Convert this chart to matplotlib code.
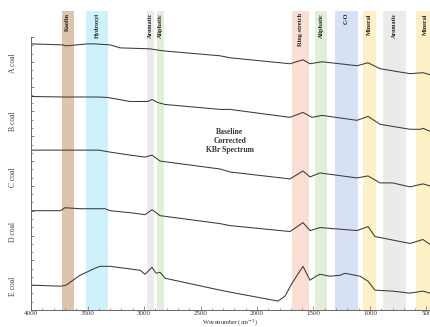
import matplotlib
matplotlib.use("Agg")
import matplotlib.pyplot as plt
from matplotlib.ticker import MultipleLocator, FixedLocator
import numpy as np

plt.rcParams['font.family'] = ['Liberation Serif', 'DejaVu Serif']

# spectra: wavenumber (cm-1) and offset absorbance (arb. units)
wn_a = [4000, 3720, 3690, 3500, 3440, 3300, 3212, 2947, 2832, 2327, 2239, 1708, 1593, 1531, 1425, 1115, 1017, 911, 646, 531, 469]
abs_a = [268, 267, 266, 268, 268, 267, 264, 263, 261, 256, 254, 248, 252, 248, 250, 246, 249, 243, 238, 239, 237]

wn_b = [4000, 3700, 3400, 3320, 3124, 2965, 2929, 2880, 2814, 2327, 2239, 1708, 1593, 1513, 1425, 1115, 1017, 911, 646, 550, 531, 469]
abs_b = [215, 214.5, 214.5, 214, 210, 210, 212, 209, 207, 202, 202, 194, 199, 194, 196, 191, 195, 187, 182, 182, 183, 180]

wn_c = [4000, 3400, 3300, 3124, 2991, 2929, 2858, 2327, 2239, 1708, 1593, 1531, 1442, 1115, 1017, 911, 800, 646, 531, 469]
abs_c = [161, 161, 159, 156, 154, 156, 150, 142, 139, 132, 140, 134, 138, 133, 135, 128, 128, 124, 127, 125]

wn_d = [4000, 3740, 3700, 3566, 3345, 3300, 3124, 2991, 2929, 2858, 2327, 2239, 1708, 1593, 1531, 1442, 1115, 1017, 956, 646, 531, 469]
abs_d = [100, 100, 103, 102, 102, 100, 98, 96, 101, 95, 87, 85, 79, 88, 80, 83, 80, 84, 74, 67, 71, 66]

wn_e = [4000, 3735, 3690, 3566, 3434, 3390, 3300, 3035, 2990, 2929, 2894, 2858, 2814, 2327, 2239, 1814, 1752, 1690, 1593, 1531, 1478, 1442, 1354, 1265, 1221, 1088, 1017, 956, 800, 646, 531, 469]
abs_e = [25, 24, 25, 35, 42, 44, 44, 40, 36, 43, 37, 38, 32, 20, 18, 9, 14, 27, 44, 30, 34, 36, 34, 35, 37, 34, 29, 20, 19, 17, 19, 17]

coal_names = ["A coal", "B coal", "C coal", "D coal", "E coal"]
coal_label_y = [249, 190, 134, 79, 24]

bands = [(3730, 3620, "Kaolin", "#dcc4ad"),
         (3510, 3320, "Hydroxyl", "#cdf2fb"),
         (2975, 2910, "Aromatic", "#ebebeb"),
         (2885, 2820, "Aliphatic", "#e1efd8"),
         (1690, 1540, "Ring stretch", "#fadfd2"),
         (1487, 1380, "Aliphatic", "#e1efd8"),
         (1310, 1106, "C-O", "#d7e1f3"),
         (1062, 947, "Mineral", "#fdefc6"),
         (885, 681, "Aromatic", "#ebebeb"),
         (593, 420, "Mineral", "#fdefc6")]

fig = plt.figure(figsize=(4.31, 3.27), dpi=100)
ax = fig.add_axes([0.072, 0.052, 0.928, 0.914])

for lo, hi, name, col in bands:
    ax.axvspan(hi, lo, color=col, lw=0, zorder=0)
    ax.text((lo + hi) / 2, 299, name, rotation=90, ha='center', va='top',
            fontsize=4.5, fontweight='bold', color='#222222')

for wn, ab in [(wn_a, abs_a), (wn_b, abs_b), (wn_c, abs_c), (wn_d, abs_d), (wn_e, abs_e)]:
    ax.plot(wn, ab, color='#3a3a3a', lw=0.75, zorder=2)

for name, y in zip(coal_names, coal_label_y):
    ax.text(-0.045, y, name, rotation=90, ha='center', va='center',
            fontsize=5.5, color='#444444', transform=ax.get_yaxis_transform())

ax.text(2240, 170, "Baseline\nCorrected\nKBr Spectrum", ha='center', va='center',
        fontsize=5.5, fontweight='bold', color='#333333', linespacing=1.2)

ax.set_xlim(4000, 460)
ax.set_ylim(0, 301)
ax.xaxis.set_major_locator(MultipleLocator(500))
ax.xaxis.set_minor_locator(MultipleLocator(100))
ax.yaxis.set_major_locator(FixedLocator(np.arange(0, 276, 25)))
ax.yaxis.set_minor_locator(FixedLocator(np.arange(0, 276, 8.33)))
ax.set_yticklabels([])
ax.tick_params(axis='both', which='both', direction='in', color='#666666', width=0.5)
ax.tick_params(axis='x', which='major', length=3, labelsize=5, pad=0.5, labelcolor='#333333')
ax.tick_params(axis='x', which='minor', length=1.5)
ax.tick_params(axis='y', which='major', length=2.5)
ax.tick_params(axis='y', which='minor', length=1.2)
for s in ['top', 'right']:
    ax.spines[s].set_visible(False)
ax.spines['left'].set_bounds(0, 275)
ax.spines['left'].set_color('#666666')
ax.spines['bottom'].set_color('#666666')
ax.spines['left'].set_linewidth(0.7)
ax.spines['bottom'].set_linewidth(0.7)

fig.text(0.534, 0.0, "Wavenumber (cm$^{-1}$)", ha='center', va='bottom', fontsize=4.6, color='#333333')

fig.savefig("out.png", dpi=100)
